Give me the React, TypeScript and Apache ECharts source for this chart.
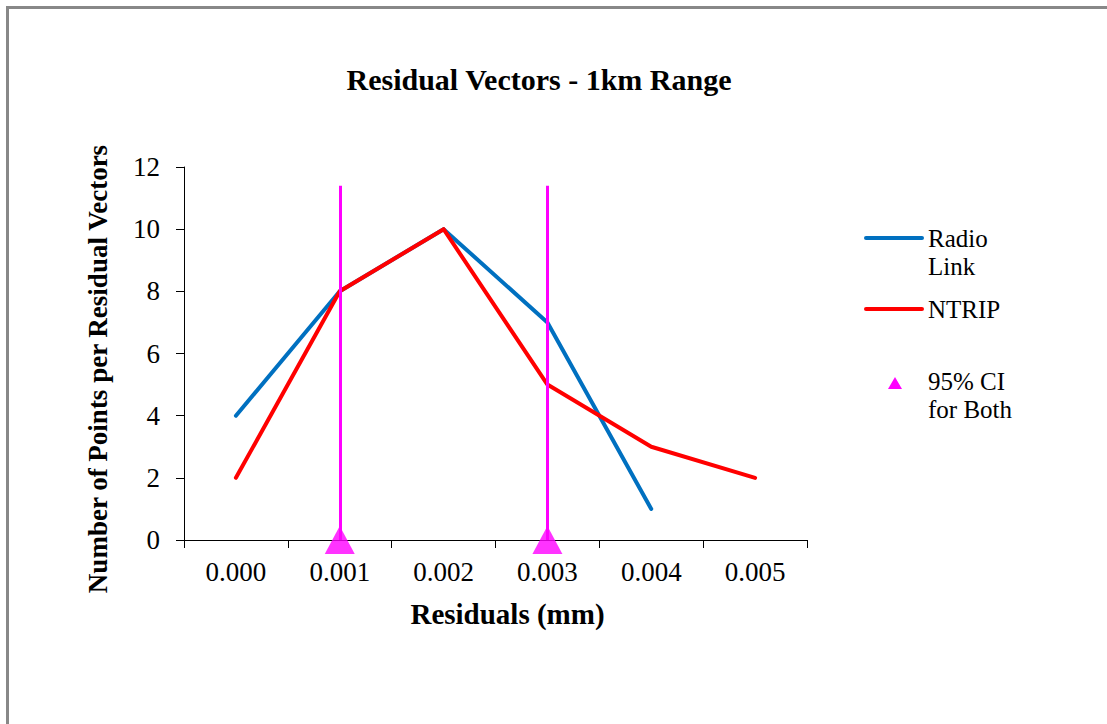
import React, { useEffect, useRef } from "react";
import * as echarts from "echarts";

const categories = ["0.000", "0.001", "0.002", "0.003", "0.004", "0.005"];
const radioLink = [4, 8, 10, 7, 1, null];
const ntrip = [2, 8, 10, 5, 3, 2];
const ciCategories = ["0.001", "0.003"];
const ciTop = 11.4;
const yTicks = { min: 0, max: 12, interval: 2 };

const FONT = "'Liberation Serif', 'Times New Roman', serif";
const BLUE = "#0070C0";
const RED = "#FF0000";
const MAGENTA = "#FF00FF";

export default function App() {
  const ref = useRef<HTMLDivElement>(null);
  useEffect(() => {
    if (!ref.current) return;
    const chart = echarts.init(ref.current, undefined, { renderer: "svg" });
    chart.setOption({
      animation: false,
      backgroundColor: "#ffffff",
      textStyle: { fontFamily: FONT, color: "#000" },
      title: {
        text: "Residual Vectors - 1km Range",
        left: 534,
        textAlign: "center",
        top: 59,
        textStyle: { fontFamily: FONT, fontSize: 30, fontWeight: "bold", color: "#000" },
      },
      grid: { left: 184, right: 300, top: 167, bottom: 184, outerBoundsMode: "none" },
      xAxis: {
        type: "category",
        data: categories,
        boundaryGap: true,
        name: "Residuals (mm)",
        nameLocation: "middle",
        nameGap: 59,
        nameTextStyle: { fontFamily: FONT, fontSize: 29, fontWeight: "bold", color: "#000", padding: [0, 0, 0, 24] },
        axisLine: { show: true, lineStyle: { color: "#000", width: 1 } },
        axisTick: { show: true, length: 8, alignWithLabel: false, lineStyle: { color: "#000" } },
        axisLabel: { fontFamily: FONT, fontSize: 27, color: "#000", margin: 18, interval: 0 },
        splitLine: { show: false },
      },
      yAxis: {
        type: "value",
        min: yTicks.min,
        max: yTicks.max,
        interval: yTicks.interval,
        name: "Number of Points per Residual Vectors",
        nameLocation: "middle",
        nameGap: 73,
        nameTextStyle: { fontFamily: FONT, fontSize: 27, fontWeight: "bold", color: "#000", padding: [0, 31, 0, 0] },
        axisLine: { show: true, lineStyle: { color: "#000", width: 1 } },
        axisTick: { show: true, length: 8, lineStyle: { color: "#000" } },
        axisLabel: { fontFamily: FONT, fontSize: 27, color: "#000", margin: 24 },
        splitLine: { show: false },
      },
      series: [
        {
          name: "Radio Link",
          type: "line",
          data: radioLink,
          symbol: "none",
          lineStyle: { color: BLUE, width: 4, cap: "round", join: "round" },
          itemStyle: { color: BLUE },
          silent: true,
          z: 2,
        },
        {
          name: "NTRIP",
          type: "line",
          data: ntrip,
          symbol: "none",
          lineStyle: { color: RED, width: 4, cap: "round", join: "round" },
          itemStyle: { color: RED },
          silent: true,
          z: 3,
        },
        {
          name: "95% CI for Both",
          type: "scatter",
          data: ciCategories.map((c) => [c, 0]),
          symbol: "triangle",
          symbolSize: [30, 28],
          itemStyle: { color: MAGENTA },
          clip: false,
          silent: true,
          z: 10,
          markLine: {
            silent: true,
            symbol: ["none", "none"],
            label: { show: false },
            lineStyle: { color: MAGENTA, width: 3, type: "solid" },
            z: 9,
            data: ciCategories.map((c) => [{ coord: [c, 0] }, { coord: [c, ciTop] }]),
          },
        },
      ],
      graphic: [
        {
          type: "rect",
          shape: { x: 7.5, y: 7.5, width: 1300, height: 900 },
          style: { fill: "none", stroke: "#888888", lineWidth: 3 },
          silent: true,
        },
        {
          type: "line",
          shape: { x1: 866, y1: 238, x2: 922, y2: 238 },
          style: { stroke: BLUE, lineWidth: 4, lineCap: "round" },
        },
        {
          type: "text",
          x: 928,
          y: 224,
          style: { text: "Radio\nLink", fontFamily: FONT, fontSize: 25, lineHeight: 28, fill: "#000", verticalAlign: "top" },
        },
        {
          type: "line",
          shape: { x1: 866, y1: 309, x2: 922, y2: 309 },
          style: { stroke: RED, lineWidth: 4, lineCap: "round" },
        },
        {
          type: "text",
          x: 928,
          y: 295,
          style: { text: "NTRIP", fontFamily: FONT, fontSize: 25, lineHeight: 28, fill: "#000", verticalAlign: "top" },
        },
        {
          type: "polygon",
          shape: { points: [[895, 377], [902, 389], [888, 389]] },
          style: { fill: MAGENTA },
        },
        {
          type: "text",
          x: 928,
          y: 367,
          style: { text: "95% CI\nfor Both", fontFamily: FONT, fontSize: 25, lineHeight: 28, fill: "#000", verticalAlign: "top" },
        },
      ],
    });
    return () => chart.dispose();
  }, []);
  return (
    <div
      ref={ref}
      style={{ position: "absolute", left: 0, top: 0, width: 1107, height: 724, background: "#fff" }}
    />
  );
}
